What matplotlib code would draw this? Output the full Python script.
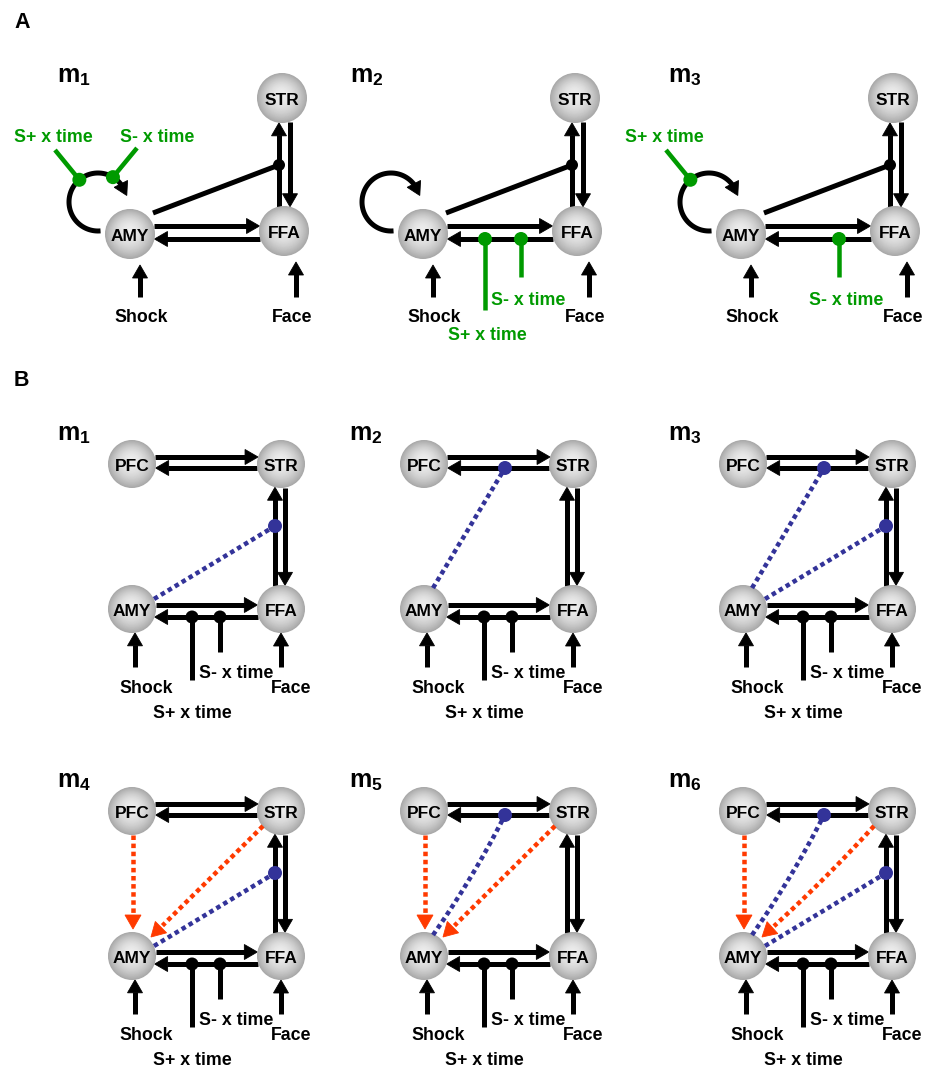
import numpy as np
import matplotlib
matplotlib.use("Agg")
import matplotlib.pyplot as plt
from matplotlib.patches import Circle, Polygon

# ---------------------------------------------------------------------------
# Model structure
# ---------------------------------------------------------------------------
# Panel A: three-region models (AMY, FFA, STR)
a_models = ["1", "2", "3"]
a_nodes = ["AMY", "FFA", "STR"]
a_inputs = [("Shock", "AMY"), ("Face", "FFA")]
# modulatory inputs on the AMY self-connection / on FFA->AMY, per model
a_loop_mods = [["S+ x time", "S- x time"], [], ["S+ x time"]]
a_ffa_amy_mods = [[], ["S+ x time", "S- x time"], ["S- x time"]]

# Panel B: four-region models (PFC, STR, AMY, FFA)
b_models = ["1", "2", "3", "4", "5", "6"]
b_nodes = ["PFC", "STR", "AMY", "FFA"]
b_inputs = [("Shock", "AMY"), ("Face", "FFA")]
b_ffa_amy_mods = ["S+ x time", "S- x time"]
# AMY gating of connections (blue), per model
b_gated = [["FFA->STR"], ["STR->PFC"], ["STR->PFC", "FFA->STR"],
           ["FFA->STR"], ["STR->PFC"], ["STR->PFC", "FFA->STR"]]
# extra driving connections into AMY (red), per model
b_extra = [[], [], [], ["PFC", "STR"], ["PFC", "STR"], ["PFC", "STR"]]

# ---------------------------------------------------------------------------
# Figure in pixel coordinates
# ---------------------------------------------------------------------------
W, H = 926, 1073
fig = plt.figure(figsize=(W / 100, H / 100), dpi=100)
ax = fig.add_axes([0, 0, 1, 1])
ax.set_xlim(0, W)
ax.set_ylim(H, 0)
ax.axis("off")

FONT = "Liberation Sans"
BLACK = "black"
GREEN = "#009a00"
BLUE = "#333399"
RED = "#ff3a00"
PX = 72 / 100.0  # points per pixel
DOTTED = (0, (1.0, 0.8))


def P(x, y):
    return np.array([x, y], dtype=float)


def line(p0, p1, color=BLACK, lw=5, ls="-", z=2):
    ax.plot([p0[0], p1[0]], [p0[1], p1[1]], color=color, lw=lw * PX, ls=ls,
            solid_capstyle="butt", dash_capstyle="butt", zorder=z)


def head(tip, direction, color=BLACK, L=13, Wd=15, z=2):
    d = direction / np.linalg.norm(direction)
    n = np.array([-d[1], d[0]])
    base = tip - d * L
    ax.add_patch(Polygon([tip, base + n * Wd / 2, base - n * Wd / 2], closed=True,
                         fc=color, ec=color, lw=0.6, zorder=z))


def arrow(p0, p1, color=BLACK, lw=5, L=13, Wd=15, ls="-", z=2):
    u = (p1 - p0) / np.linalg.norm(p1 - p0)
    line(p0, p1 - u * (L - 1), color, lw, ls, z)
    head(p1, u, color, L, Wd, z)


def bezier(p0, p1, bend, n=40):
    d = p1 - p0
    nrm = np.array([-d[1], d[0]]) / np.linalg.norm(d)
    c = (p0 + p1) / 2 + nrm * bend
    t = np.linspace(0, 1, n)[:, None]
    return (1 - t) ** 2 * p0 + 2 * (1 - t) * t * c + t ** 2 * p1


def dot(p, color, r, z=6):
    ax.add_patch(Circle(p, r, fc=color, ec="none", zorder=z))


def node(c, r, label, ty=7):
    n = 36
    for i in range(n):
        s = 1 - i / n
        g = 0.93 - (0.93 - 0.66) * s ** 2.0
        off = 0.15 * (r - r * s)
        ax.add_patch(Circle((c[0] - off * 0.2, c[1] - off), r * s,
                            fc=(g, g, g), ec="none", zorder=3))
    ax.text(c[0], c[1] + ty, label, ha="center", va="baseline", fontsize=12.5,
            fontweight="bold", family=FONT, zorder=4)


def txt(x, y, s, color=BLACK, size=12.8, ha="center"):
    ax.text(x, y, s, ha=ha, va="baseline", fontsize=size, fontweight="bold",
            family=FONT, color=color, zorder=7)


def model_label(x, y, sub):
    txt(x, y, "m", size=18, ha="left")
    txt(x + 22.5, y + 3, sub, size=12.5, ha="left")


def hx(c, r, dy, side):
    """x where a horizontal line at c.y+dy meets the circle."""
    return c[0] + side * np.sqrt(r ** 2 - dy ** 2)


def vy(c, r, dx, side):
    """y where a vertical line at c.x+dx meets the circle."""
    return c[1] + side * np.sqrt(r ** 2 - dx ** 2)


# ---------------------------------------------------------------------------
# Panel A
# ---------------------------------------------------------------------------
txt(14, 28, "A", size=15.5, ha="left")
A_COLS = [130, 423, 741]
A_Y = 234
RA = 25
for k, sub in enumerate(a_models):
    amy = P(A_COLS[k], A_Y)
    ffa = amy + P(154, -3)
    strn = amy + P(152, -136)
    pos = {"AMY": amy, "FFA": ffa, "STR": strn}
    model_label(amy[0] - 73, amy[1] - 152, sub)

    # AMY <-> FFA
    yu, yl = -8, 5
    arrow(P(hx(amy, RA, yu, 1), amy[1] + yu), P(hx(ffa, RA, yu + 3, -1), amy[1] + yu))
    arrow(P(hx(ffa, RA, yl + 3, -1), amy[1] + yl), P(hx(amy, RA, yl, 1), amy[1] + yl))
    # FFA <-> STR
    xu, xd = -5, 6
    arrow(P(ffa[0] + xu, vy(ffa, RA, xu, -1)), P(ffa[0] + xu, vy(strn, RA, xu + 2, 1)))
    arrow(P(ffa[0] + xd, vy(strn, RA, xd + 2, 1)), P(ffa[0] + xd, vy(ffa, RA, xd, -1)))
    # AMY gating FFA->STR
    gate = P(ffa[0] + xu, amy[1] - 69)
    line(amy + P(23, -21), gate)
    dot(gate, BLACK, 6)

    # AMY self-connection
    lc = amy + P(-32, -32)
    lr = 29
    t = np.radians(np.linspace(85, 333, 80))
    pts = np.column_stack([lc[0] + lr * np.cos(t), lc[1] + lr * np.sin(t)])
    ax.plot(pts[:-3, 0], pts[:-3, 1], color=BLACK, lw=5 * PX,
            solid_capstyle="butt", zorder=2)
    tang = np.array([-np.sin(t[-1]), np.cos(t[-1])])
    head(pts[-4] + tang * 12, tang, BLACK, 13, 15)

    loop_geo = {"S+ x time": (230, P(-75, -84), P(-77, -92)),
                "S- x time": (301, P(7, -86), P(27, -92))}
    for m in a_loop_mods[k]:
        ang, end, lab = loop_geo[m]
        dp = lc + lr * np.array([np.cos(np.radians(ang)), np.sin(np.radians(ang))])
        line(dp, amy + end, GREEN, 4.5, z=5)
        dot(dp, GREEN, 7)
        txt(amy[0] + lab[0], amy[1] + lab[1], m, GREEN)

    line_geo = {"S+ x time": (62, 76, P(64, 106)),
                "S- x time": (98, 43, P(105, 71))}
    for m in a_ffa_amy_mods[k]:
        xo, ylen, lab = line_geo[m]
        dp = P(amy[0] + xo, amy[1] + yl)
        line(dp, P(dp[0], amy[1] + ylen), GREEN, 4.5, z=5)
        dot(dp, GREEN, 7)
        txt(amy[0] + lab[0], amy[1] + lab[1], m, GREEN)

    # driving inputs
    in_geo = {"AMY": (10, 11), "FFA": (12, 8)}
    for name, target in a_inputs:
        c = pos[target]
        xo, to = in_geo[target]
        arrow(P(c[0] + xo, amy[1] + 63), P(c[0] + xo, c[1] + 31))
        txt(c[0] + to, amy[1] + 88, name)

    for nm in a_nodes:
        node(pos[nm], RA, nm)

# ---------------------------------------------------------------------------
# Panel B
# ---------------------------------------------------------------------------
txt(14, 386, "B", size=15.5, ha="left")
B_COLS = [132, 424, 743]
B_ROWS = [464, 811]
RB = 24
for k, sub in enumerate(b_models):
    x0 = B_COLS[k % 3]
    y0 = B_ROWS[k // 3]
    pfc = P(x0, y0)
    strn = P(x0 + 149, y0)
    amy = P(x0, y0 + 145)
    ffa = P(x0 + 149, y0 + 145)
    pos = {"PFC": pfc, "STR": strn, "AMY": amy, "FFA": ffa}
    model_label(x0 - 75, y0 - 24, sub)

    # PFC <-> STR
    pu, pl = -7, 4
    arrow(P(hx(pfc, RB, pu, 1), y0 + pu), P(hx(strn, RB, pu, -1), y0 + pu))
    arrow(P(hx(strn, RB, pl, -1), y0 + pl), P(hx(pfc, RB, pl, 1), y0 + pl))
    # AMY <-> FFA
    au, al = -4, 8
    arrow(P(hx(amy, RB, au, 1), amy[1] + au), P(hx(ffa, RB, au, -1), amy[1] + au))
    arrow(P(hx(ffa, RB, al, -1), amy[1] + al), P(hx(amy, RB, al, 1), amy[1] + al))
    # FFA <-> STR
    xu, xd = -6, 4
    arrow(P(ffa[0] + xu, vy(ffa, RB, xu, -1)), P(ffa[0] + xu, vy(strn, RB, xu, 1)))
    arrow(P(ffa[0] + xd, vy(strn, RB, xd, 1)), P(ffa[0] + xd, vy(ffa, RB, xd, -1)))

    # contextual inputs on FFA->AMY
    mod_geo = {"S+ x time": (60, 71, P(60, 109)),
               "S- x time": (88, 43, P(104, 69))}
    for m in b_ffa_amy_mods:
        xo, ylen, lab = mod_geo[m]
        dp = P(x0 + xo, amy[1] + al)
        line(dp, P(dp[0], amy[1] + ylen), BLACK, 5, z=5)
        dot(dp, BLACK, 6.5)
        txt(x0 + lab[0], amy[1] + lab[1], m)

    # driving inputs
    in_geo = {"AMY": (3, 14), "FFA": (0, 10)}
    for name, target in b_inputs:
        c = pos[target]
        xo, to = in_geo[target]
        arrow(P(c[0] + xo, amy[1] + 58), P(c[0] + xo, vy(c, RB, xo, 1)))
        txt(c[0] + to, amy[1] + 84, name)

    # extra connections into AMY (dotted red arrows)
    for src in b_extra[k]:
        if src == "PFC":
            p0 = P(x0 + 1, y0 + RB)
            p1 = P(x0 + 1, amy[1] - 27)
            u = (p1 - p0) / np.linalg.norm(p1 - p0)
            line(p0, p1 - u * 13, RED, 4.5, DOTTED, z=4)
            head(p1, u, RED, 14, 16, z=4)
        else:
            p0 = strn + P(-18, 15)
            p1 = amy + P(19, -19)
            pts = bezier(p0, p1, -4 if k == 5 else 0)
            u = (pts[-1] - pts[-3]) / np.linalg.norm(pts[-1] - pts[-3])
            keep = np.linalg.norm(pts - p1, axis=1) > 13
            ax.plot(pts[keep, 0], pts[keep, 1], color=RED, lw=4.5 * PX, ls=DOTTED,
                    dash_capstyle="butt", zorder=4)
            head(p1, u, RED, 14, 16, z=4)

    # AMY gating (dotted blue, ending in a dot on the gated connection)
    for conn in b_gated[k]:
        if conn == "FFA->STR":
            p0 = amy + P(22, -10)
            p1 = P(ffa[0] + xu, y0 + 62)
            bend = 0
        else:
            p0 = amy + P(9, -21)
            p1 = P(x0 + 81, y0 + pl)
            bend = 5 if k >= 4 else 0
        pts = bezier(p0, p1, bend)
        ax.plot(pts[:, 0], pts[:, 1], color=BLUE, lw=4.5 * PX, ls=DOTTED,
                dash_capstyle="butt", zorder=4)
        dot(p1, BLUE, 7)

    for nm in b_nodes:
        node(pos[nm], RB, nm)

fig.savefig("out.png", dpi=100, facecolor="white")
